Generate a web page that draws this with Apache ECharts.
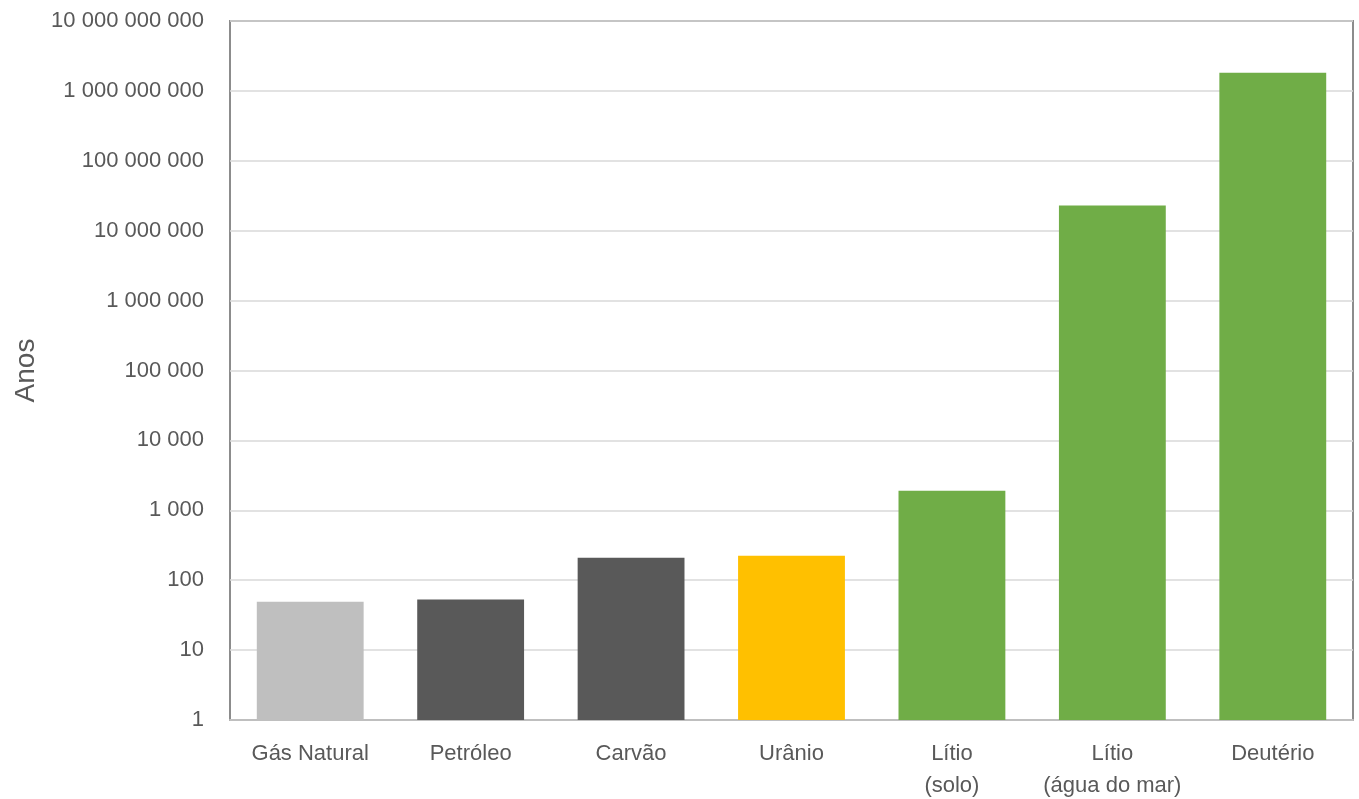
<!DOCTYPE html>
<html>
<head>
<meta charset="utf-8">
<script src="https://cdn.jsdelivr.net/npm/echarts@6/dist/echarts.min.js"></script>
<style>
  html, body { margin: 0; padding: 0; background: #ffffff; }
  #chart { width: 1359px; height: 799px; }
</style>
</head>
<body>
<div id="chart"></div>
<script>
// Energy source categories (x axis)
const categories = ['Gás Natural', 'Petróleo', 'Carvão', 'Urânio', 'Lítio\n(solo)', 'Lítio\n(água do mar)', 'Deutério'];
// Years of supply for each source (log scale)
const years = [49, 53, 210, 224, 1900, 23000000, 1820000000];
// Bar fill per category
const barColors = ['#BFBFBF', '#595959', '#595959', '#FFC000', '#70AD47', '#70AD47', '#70AD47'];
const yAxisTitle = 'Anos';

const fontFamily = '"Liberation Sans", "DejaVu Sans", sans-serif';

function spaced(v) {
  return Math.round(v).toString().replace(/\B(?=(\d{3})+(?!\d))/g, ' ');
}

const chart = echarts.init(document.getElementById('chart'), null, { renderer: 'canvas' });
chart.setOption({
  animation: false,
  grid: {
    left: 230, right: 6, top: 21, bottom: 79,
    outerBoundsMode: 'none', containLabel: false,
    show: true, borderColor: '#8c8c8c', borderWidth: 2, backgroundColor: 'transparent'
  },
  xAxis: {
    type: 'category',
    data: categories,
    axisTick: { show: false },
    axisLine: { show: true, lineStyle: { color: '#bfbfbf', width: 2 } },
    axisLabel: {
      color: '#595959', fontSize: 22, fontFamily: fontFamily,
      margin: 18, lineHeight: 32, interval: 0
    }
  },
  yAxis: {
    type: 'log',
    logBase: 10,
    min: 1,
    max: 10000000000,
    interval: 1,
    name: yAxisTitle,
    nameLocation: 'middle',
    nameGap: 186,
    nameTextStyle: { color: '#595959', fontSize: 28, fontFamily: fontFamily },
    axisLine: { show: false },
    axisTick: { show: false },
    splitLine: { show: true, lineStyle: { color: '#d9d9d9', width: 1.5 } },
    axisLabel: {
      color: '#595959', fontSize: 22, fontFamily: fontFamily, margin: 26,
      formatter: spaced
    }
  },
  series: [{
    type: 'bar',
    data: years.map((v, i) => ({ value: v, itemStyle: { color: barColors[i] } })),
    barWidth: '66.6%'
  }]
});
</script>
</body>
</html>
